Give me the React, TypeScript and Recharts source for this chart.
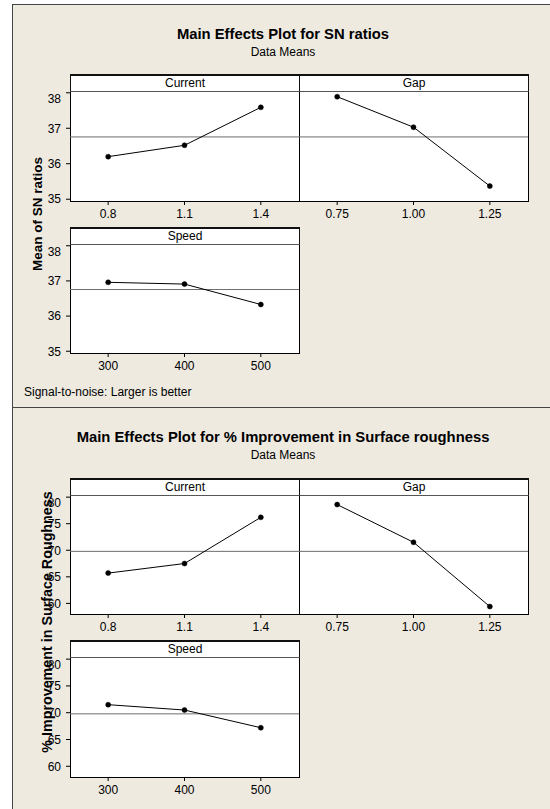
import React from "react";
import { LineChart, Line, XAxis, YAxis, ReferenceLine } from "recharts";

// factor levels
const currentLevels = [0.8, 1.1, 1.4];
const gapLevels = [0.75, 1.0, 1.25];
const speedLevels = [300, 400, 500];

// SN ratio means
const snCurrent = [36.2, 36.52, 37.59];
const snGap = [37.89, 37.03, 35.37];
const snSpeed = [36.96, 36.91, 36.33];

// % improvement in surface roughness means
const impCurrent = [65.7, 67.5, 76.2];
const impGap = [78.6, 71.5, 59.4];
const impSpeed = [71.5, 70.5, 67.2];

const snTicks = [35, 36, 37, 38];
const impTicks = [60, 65, 70, 75, 80];

const FONT = '"Liberation Sans", Arial, sans-serif';
const BG = "#eeeae0";
const AXIS_W = 45;
const HEADER_H = 17;

const mean = (arr: number[]) => arr.reduce((a, b) => a + b, 0) / arr.length;

interface PanelProps {
	name: string;
	levels: number[];
	values: number[];
	grandMean: number;
	xDomain: [number, number];
	yDomain: [number, number];
	yTicks: number[];
	decimals: number;
	left: number;
	top: number;
	width: number;
	height: number;
	showY: boolean;
}

const Panel: React.FC<PanelProps> = ({
	name,
	levels,
	values,
	grandMean,
	xDomain,
	yDomain,
	yTicks,
	decimals,
	left,
	top,
	width,
	height,
	showY,
}) => {
	const data = levels.map((l, i) => ({ x: l, y: values[i] }));
	const chartLeft = showY ? left - AXIS_W : left;
	const chartW = width + (showY ? AXIS_W : 0);
	return (
		<>
			<div
				style={{
					position: "absolute",
					left,
					top,
					width: width + 1,
					height: height + 1,
					background: "#fff",
					border: "1px solid #000",
					boxSizing: "border-box",
				}}
			/>
			<div
				style={{
					position: "absolute",
					left,
					top: top - HEADER_H,
					width: width + 1,
					height: HEADER_H + 1,
					background: "#fff",
					borderTop: "2px solid #111",
					borderLeft: "1px solid #111",
					borderRight: "1px solid #111",
					borderBottom: "1px solid #555",
					boxSizing: "border-box",
					fontSize: 12,
					lineHeight: `${HEADER_H - 3}px`,
					textAlign: "center",
				}}
			>
				{name}
			</div>
			<div style={{ position: "absolute", left: chartLeft, top }}>
				<LineChart
					width={chartW}
					height={height + 30}
					data={data}
					margin={{ top: 0, right: 0, bottom: 0, left: 0 }}
				>
					<XAxis
						dataKey="x"
						type="number"
						domain={xDomain}
						ticks={levels}
						allowDataOverflow
						axisLine={false}
						tickSize={4}
						tickMargin={4}
						height={30}
						tickLine={{ stroke: "#000" }}
						tick={{ fontSize: 12, fill: "#000", fontFamily: FONT }}
						tickFormatter={(v: number) => v.toFixed(decimals)}
					/>
					<YAxis
						type="number"
						domain={yDomain}
						ticks={yTicks}
						allowDataOverflow
						hide={!showY}
						width={AXIS_W}
						axisLine={false}
						tickSize={4}
						tickMargin={5}
						tickLine={{ stroke: "#000" }}
						tick={{ fontSize: 12, fill: "#000", fontFamily: FONT }}
					/>
					<ReferenceLine y={grandMean} stroke="#6e6e6e" strokeWidth={1} />
					<Line
						dataKey="y"
						stroke="#000"
						strokeWidth={1}
						dot={{ r: 2.5, fill: "#000", stroke: "#000", strokeWidth: 0.5 }}
						isAnimationActive={false}
					/>
				</LineChart>
			</div>
		</>
	);
};

const Figure: React.FC<{
	top: number;
	height: number;
	title: string;
	yLabel: string;
	yLabelX: number;
	yLabelY: number;
	yLabelSize: number;
	footnote?: string;
	children: React.ReactNode;
}> = ({ top, height, title, yLabel, yLabelX, yLabelY, yLabelSize, footnote, children }) => (
	<div
		style={{
			position: "absolute",
			left: 12,
			top,
			width: 550,
			height,
			background: BG,
			border: "1px solid #444",
			boxSizing: "border-box",
		}}
	>
		<div
			style={{
				position: "absolute",
				left: 0,
				width: 540,
				top: 21,
				textAlign: "center",
				fontWeight: "bold",
				fontSize: 14.8,
			}}
		>
			{title}
		</div>
		<div
			style={{
				position: "absolute",
				left: 0,
				width: 540,
				top: 40,
				textAlign: "center",
				fontSize: 12,
			}}
		>
			Data Means
		</div>
		<div
			style={{
				position: "absolute",
				left: yLabelX - 13,
				top: yLabelY - top - 1,
				transform: "translate(-50%, -50%) rotate(-90deg)",
				whiteSpace: "nowrap",
				fontWeight: "bold",
				fontSize: yLabelSize,
			}}
		>
			{yLabel}
		</div>
		{footnote && (
			<div style={{ position: "absolute", left: 11, top: 380, fontSize: 12 }}>
				{footnote}
			</div>
		)}
		<div style={{ position: "absolute", left: -13, top: -top - 1 }}>{children}</div>
	</div>
);

export default function App() {
	const snMean = mean([...snCurrent, ...snGap, ...snSpeed]);
	const impMean = mean([...impCurrent, ...impGap, ...impSpeed]);
	const snY: [number, number] = [34.95, 38.05];
	const impY: [number, number] = [58, 80.4];
	return (
		<div
			style={{
				position: "absolute",
				left: 0,
				top: 0,
				width: 550,
				height: 809,
				overflow: "hidden",
				fontFamily: FONT,
				color: "#000",
				background: "#fff",
			}}
		>
			<Figure
				top={4}
				height={404}
				title="Main Effects Plot for SN ratios"
				yLabel="Mean of SN ratios"
				yLabelX={37}
				yLabelY={214}
				yLabelSize={13.5}
				footnote="Signal-to-noise: Larger is better"
			>
				<Panel name="Current" levels={currentLevels} values={snCurrent} grandMean={snMean}
					xDomain={[0.65, 1.55]} yDomain={snY} yTicks={snTicks} decimals={1}
					left={70} top={91} width={229} height={110} showY />
				<Panel name="Gap" levels={gapLevels} values={snGap} grandMean={snMean}
					xDomain={[0.625, 1.375]} yDomain={snY} yTicks={snTicks} decimals={2}
					left={299} top={91} width={229} height={110} showY={false} />
				<Panel name="Speed" levels={speedLevels} values={snSpeed} grandMean={snMean}
					xDomain={[250, 550]} yDomain={snY} yTicks={snTicks} decimals={0}
					left={70} top={244} width={229} height={109} showY />
			</Figure>
			<Figure
				top={407}
				height={420}
				title="Main Effects Plot for % Improvement in Surface roughness"
				yLabel="% Improvement in Surface Roughness"
				yLabelX={47}
				yLabelY={622}
				yLabelSize={14.3}
			>
				<Panel name="Current" levels={currentLevels} values={impCurrent} grandMean={impMean}
					xDomain={[0.65, 1.55]} yDomain={impY} yTicks={impTicks} decimals={1}
					left={70} top={495} width={229} height={119} showY />
				<Panel name="Gap" levels={gapLevels} values={impGap} grandMean={impMean}
					xDomain={[0.625, 1.375]} yDomain={impY} yTicks={impTicks} decimals={2}
					left={299} top={495} width={229} height={119} showY={false} />
				<Panel name="Speed" levels={speedLevels} values={impSpeed} grandMean={impMean}
					xDomain={[250, 550]} yDomain={impY} yTicks={impTicks} decimals={0}
					left={70} top={657} width={229} height={120} showY />
			</Figure>
		</div>
	);
}
